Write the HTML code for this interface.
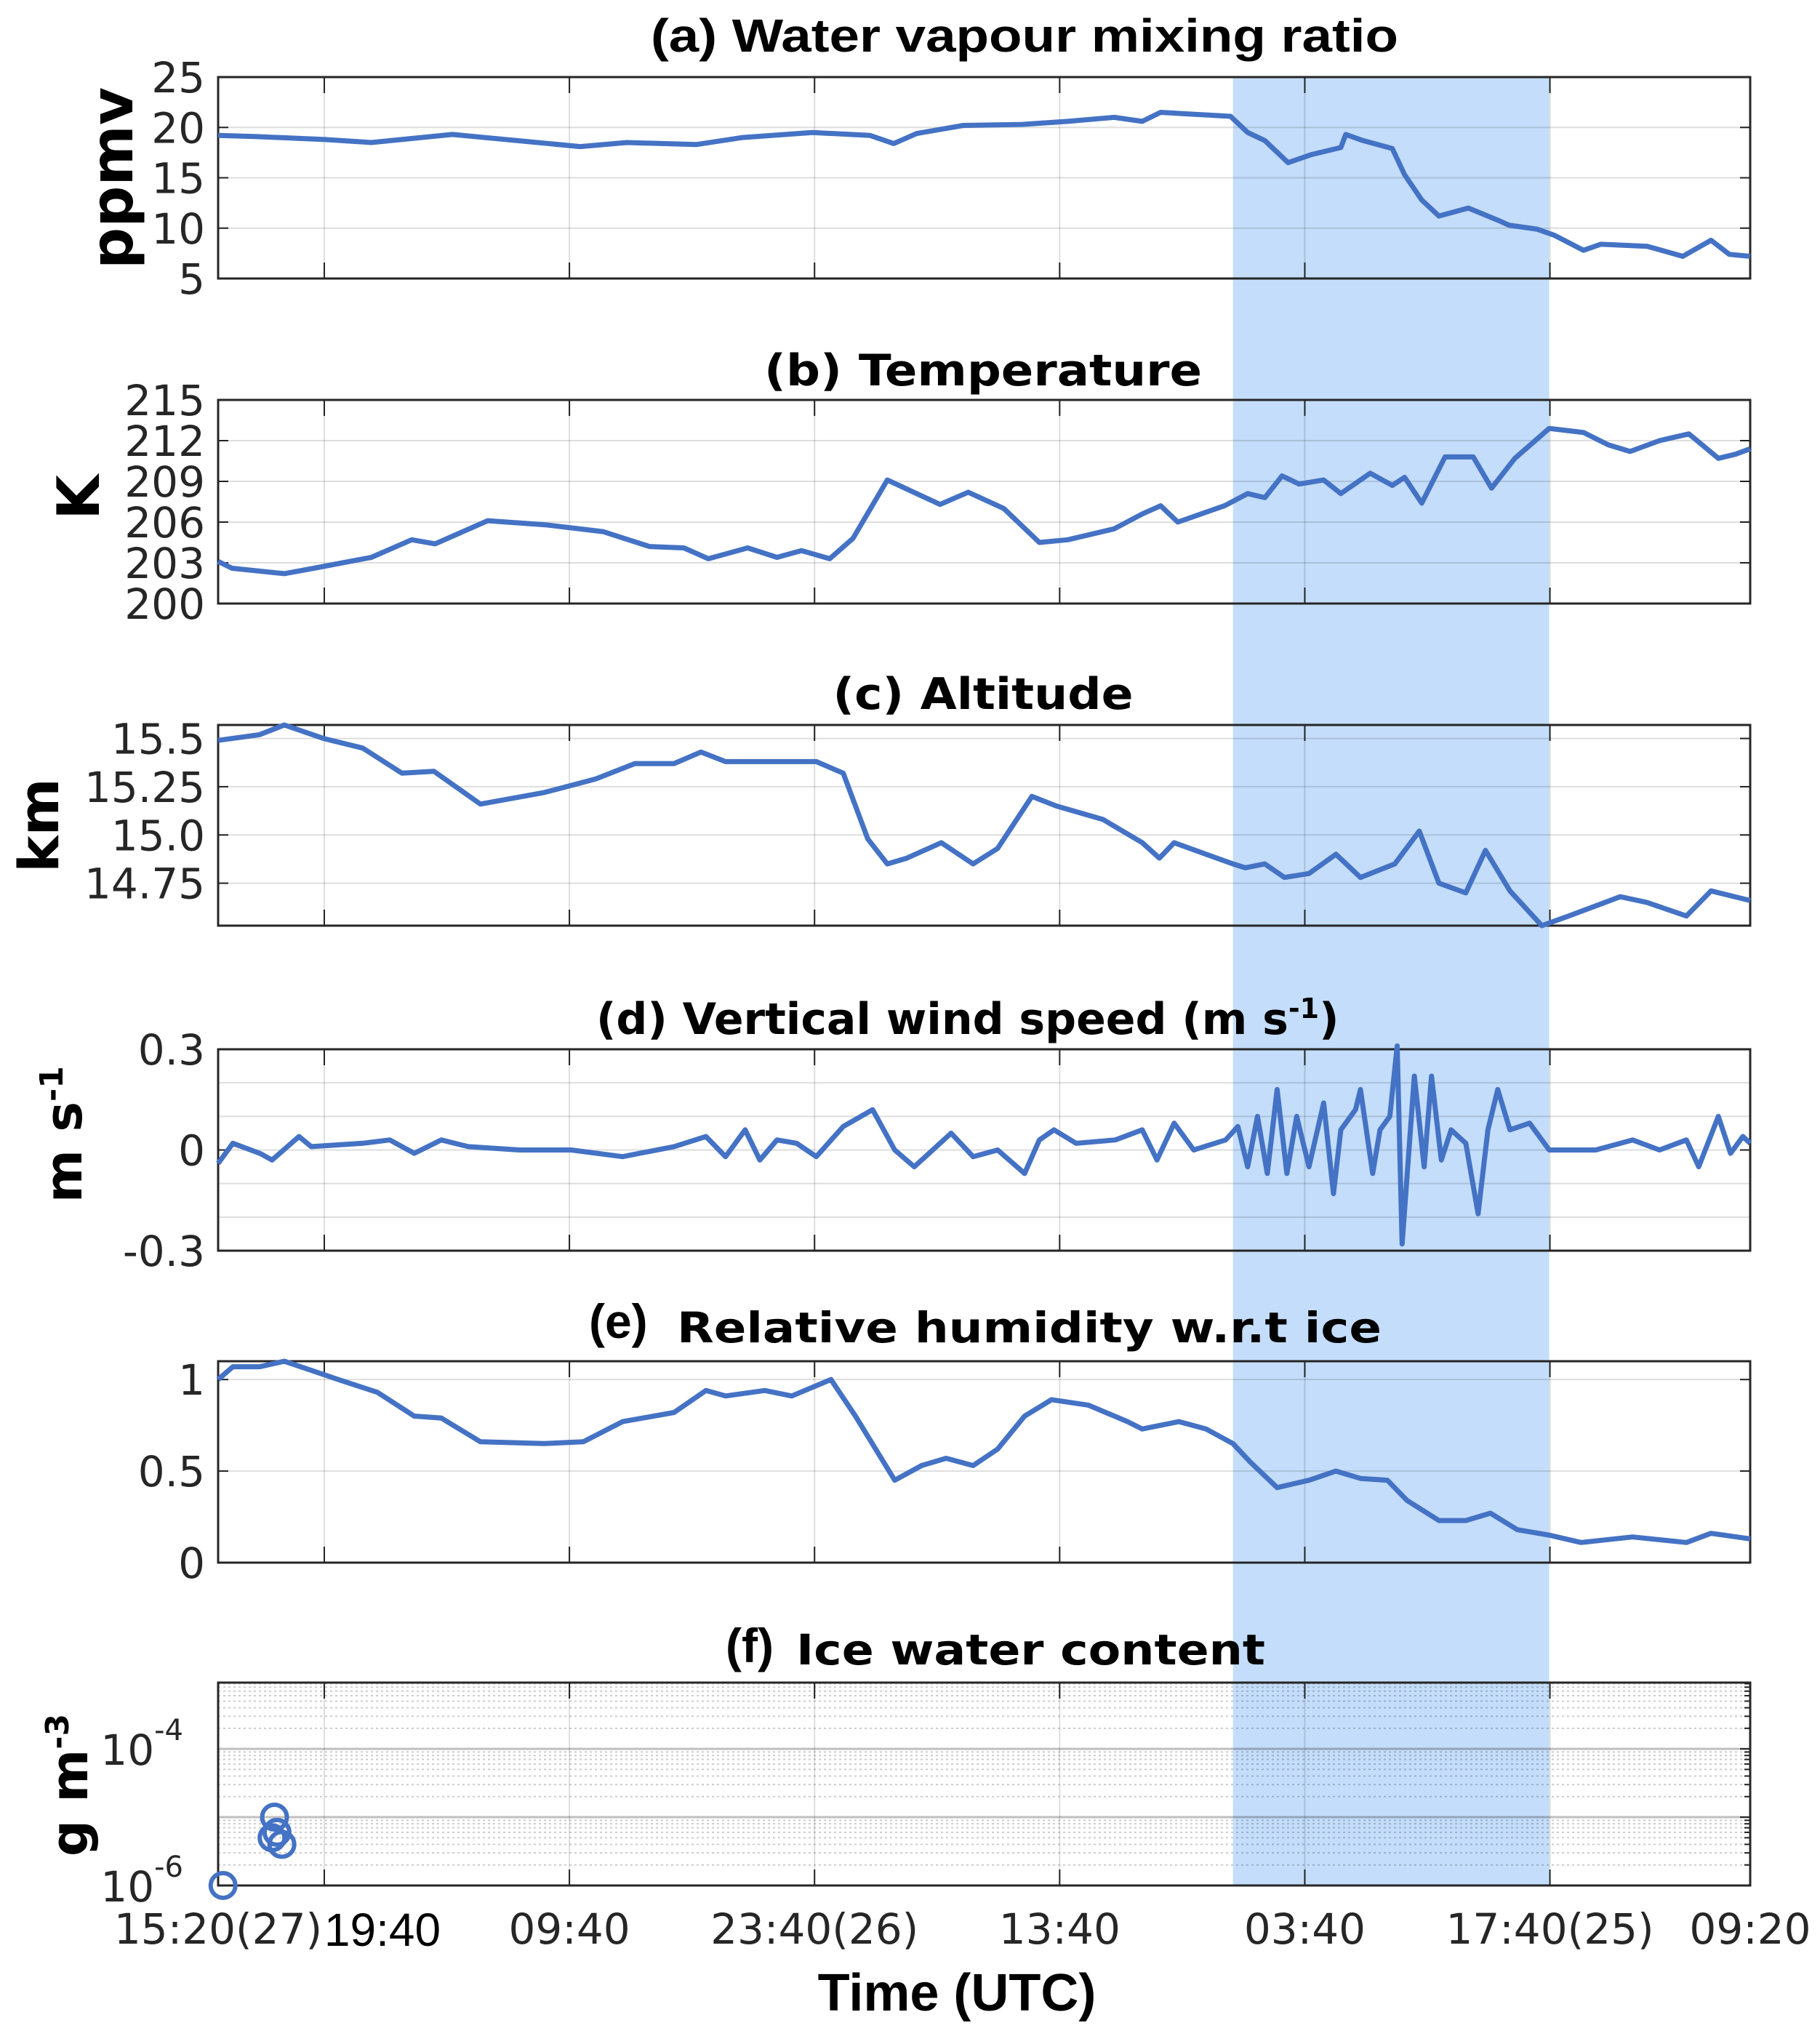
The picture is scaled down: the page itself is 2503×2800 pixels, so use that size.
<!DOCTYPE html>
<html><head><meta charset="utf-8"><style>
html,body{margin:0;padding:0;background:#fff}
svg{display:block}
.tk{font-family:"DejaVu Sans","Liberation Sans",sans-serif;font-size:58px;fill:#262626}
.ttl{font-family:"DejaVu Sans","Liberation Sans",sans-serif;font-weight:bold;fill:#000}
.ttlh{font-family:"Liberation Sans",sans-serif;font-weight:bold;fill:#000}
</style></head><body>
<svg id="chart" width="2503" height="2800" viewBox="0 0 2503 2800" xmlns="http://www.w3.org/2000/svg"></svg>
<script>
// x-axis (hours from plot start)
const xTickHours=[4.33,14.33,24.33,34.33,44.33,54.33];
const xTickLabels=["19:40","09:40","23:40(26)","13:40","03:40","17:40(25)"];
const xEndLabels=["15:20(27)","09:20"];
const shadeHours=[41.4,54.3];
// (a) water vapour
const hA=[0,1.5,4.36,6.25,9.56,14.77,16.67,19.5,21.4,24.24,26.6,27.56,28.5,30.4,32.8,34.66,36.55,37.7,38.45,41.3,42,42.7,43.65,44.6,45.8,46,46.7,47.9,48.4,49.1,49.8,51,52.2,52.65,53.8,54.5,55.7,56.4,58.3,59.75,60.9,61.65,62.5];
const vA=[19.2,19.1,18.8,18.5,19.3,18.1,18.5,18.3,19,19.5,19.2,18.4,19.4,20.2,20.3,20.6,21,20.6,21.5,21.1,19.5,18.7,16.5,17.3,18,19.3,18.7,17.9,15.3,12.8,11.2,12,10.8,10.3,9.9,9.3,7.8,8.4,8.2,7.2,8.8,7.4,7.2];
const tA=[5,10,15,20,25];
// (b) temperature
const hB=[0,.57,2.7,3.9,6.25,7.9,8.85,11,13.35,15.7,17.6,19,20,21.6,22.8,23.8,24.95,25.9,27.3,29.45,30.6,32.05,33.5,34.66,36.55,37.7,38.45,39.15,41.05,42,42.7,43.4,44.1,45.1,45.8,47,47.9,48.4,49.1,50.05,51.2,51.95,52.9,54.3,55.7,56.7,57.6,58.8,60,61.2,61.9,62.5];
const vB=[203.1,202.6,202.2,202.6,203.4,204.7,204.4,206.1,205.8,205.3,204.2,204.1,203.3,204.1,203.4,203.9,203.3,204.8,209.1,207.3,208.2,207,204.5,204.7,205.5,206.6,207.2,206,207.2,208.1,207.8,209.4,208.8,209.1,208.1,209.6,208.7,209.3,207.4,210.8,210.8,208.5,210.7,212.9,212.6,211.7,211.2,212,212.5,210.7,211,211.4];
const tB=[200,203,206,209,212,215];
// (c) altitude
const hC=[0,1.7,2.7,4.3,5.9,7.5,8.8,10.7,13.3,15.4,17,18.6,19.7,20.7,22.8,24.4,25.5,26.5,27.3,28.1,29.5,30.8,31.8,33.2,34.2,36.1,37.7,38.4,39,40.3,41.4,41.9,42.7,43.5,44.5,45.6,46.6,48,49,49.8,50.9,51.7,52.7,54,55.1,57.2,58.3,59.9,60.9,62.5];
const vC=[15.49,15.52,15.57,15.5,15.45,15.32,15.33,15.16,15.22,15.29,15.37,15.37,15.43,15.38,15.38,15.38,15.32,14.98,14.85,14.88,14.96,14.85,14.93,15.2,15.15,15.08,14.96,14.88,14.96,14.9,14.85,14.83,14.85,14.78,14.8,14.9,14.78,14.85,15.02,14.75,14.7,14.92,14.71,14.53,14.58,14.68,14.65,14.58,14.71,14.66];
const tC=[14.75,15.0,15.25,15.5];
const tCLabels=["14.75","15.0","15.25","15.5"];
// (d) vertical wind
const hD=[0,0.6,1.7,2.2,3.3,3.8,5.9,7.0,8.0,9.1,10.2,12.3,14.4,16.5,18.6,19.9,20.7,21.5,22.1,22.8,23.6,24.4,25.5,26.7,27.6,28.4,29.9,30.8,31.8,32.9,33.5,34.1,35.0,36.6,37.7,38.3,39.0,39.8,41.1,41.6,42.0,42.4,42.8,43.2,43.6,44.0,44.5,45.1,45.5,45.8,46.4,46.6,47.1,47.4,47.8,48.1,48.3,48.8,49.2,49.5,49.9,50.3,50.9,51.4,51.8,52.2,52.7,53.5,54.3,56.2,57.7,58.8,59.9,60.4,61.2,61.7,62.2,62.5];
const vD=[-0.04,0.02,-0.01,-0.03,0.04,0.01,0.02,0.03,-0.01,0.03,0.01,0,0,-0.02,0.01,0.04,-0.02,0.06,-0.03,0.03,0.02,-0.02,0.07,0.12,0,-0.05,0.05,-0.02,0,-0.07,0.03,0.06,0.02,0.03,0.06,-0.03,0.08,0,0.03,0.07,-0.05,0.1,-0.07,0.18,-0.07,0.1,-0.05,0.14,-0.13,0.06,0.12,0.18,-0.07,0.06,0.1,0.31,-0.28,0.22,-0.05,0.22,-0.03,0.06,0.02,-0.19,0.06,0.18,0.06,0.08,0,0,0.03,0,0.03,-0.05,0.1,-0.01,0.04,0.02];
const tD=[-0.3,0,0.3];
// (e) RH ice
const hE=[0,.6,1.7,2.7,3.8,4.9,6.5,8,9.1,10.7,13.3,14.9,16.5,18.6,19.9,20.7,22.3,23.4,25,26,27.6,28.7,29.7,30.8,31.8,32.9,34,35.5,37.1,37.7,39.2,40.3,41.4,42.1,43.2,44.5,45.6,46.6,47.7,48.5,49.8,50.9,51.9,53,54.3,55.6,57.7,59.9,60.9,62.5];
const vE=[1.0,1.07,1.07,1.1,1.05,1.0,.93,.8,.79,.66,.65,.66,.77,.82,.94,.91,.94,.91,1.0,.8,.45,.53,.57,.53,.62,.8,.89,.86,.77,.73,.77,.73,.65,.55,.41,.45,.5,.46,.45,.34,.23,.23,.27,.18,.15,.11,.14,.11,.16,.13];
const tE=[0,0.5,1];
// (f) IWC
const hF=[0.2,2.3,2.2,2.6,2.4];
const vF=[1e-6,1e-5,5e-6,4e-6,6e-6];

const NS="http://www.w3.org/2000/svg";
const svg=document.getElementById('chart');
const X0=300,X1=2407,HMAX=62.5;
const xs=h=>X0+(h/HMAX)*(X1-X0);
function el(tag,attrs,parent){const e=document.createElementNS(NS,tag);for(const k in attrs)e.setAttribute(k,attrs[k]);(parent||svg).appendChild(e);return e;}
function txt(s,attrs,parent){const e=el('text',attrs,parent);e.textContent=s;return e;}

const panels=[
 {id:'a',top:106,bot:383,min:5,max:25,h:hA,v:vA,ticks:tA,grid:tA},
 {id:'b',top:550,bot:830,min:200,max:215,h:hB,v:vB,ticks:tB,grid:tB},
 {id:'c',top:997,bot:1273,min:14.53,max:15.57,h:hC,v:vC,ticks:tC,grid:tC,labels:tCLabels},
 {id:'d',top:1443,bot:1720,min:-0.3,max:0.3,h:hD,v:vD,ticks:tD,grid:[-0.2,-0.1,0,0.1,0.2]},
 {id:'e',top:1872,bot:2149,min:0,max:1.1,h:hE,v:vE,ticks:tE,grid:[0,0.5,1]},
 {id:'f',top:2314,bot:2593,log:true,min:-6,max:-3.03,h:hF,v:vF}
];

const sh=el('rect',{x:xs(shadeHours[0]),y:106,width:xs(shadeHours[1])-xs(shadeHours[0]),height:2593-106,fill:'#c4ddfa'});



panels.forEach(p=>{
 const g=el('g',{});
 
 
 const ys=p.log?(v=>p.bot-(Math.log10(v)-p.min)/(p.max-p.min)*(p.bot-p.top)):(v=>p.bot-(v-p.min)/(p.max-p.min)*(p.bot-p.top));
 xTickHours.forEach(h=>{
  el('line',{x1:xs(h),x2:xs(h),y1:p.top,y2:p.bot,stroke:'#000','stroke-opacity':0.13,'stroke-width':2},g);
  el('line',{x1:xs(h),x2:xs(h),y1:p.bot,y2:p.bot-22,stroke:'#222','stroke-width':2},g);
  el('line',{x1:xs(h),x2:xs(h),y1:p.top,y2:p.top+22,stroke:'#222','stroke-width':2},g);
 });
 if(p.log){
  for(let d=-6;d<-3;d++){for(let m=1;m<10;m++){const v=m*Math.pow(10,d);const y=ys(v);if(y<p.top)continue;
   el('line',{x1:X0,x2:X1,y1:y,y2:y,stroke:'#000','stroke-opacity':m===1?0.25:0.2,'stroke-width':m===1?3:2,'stroke-dasharray':m===1?'none':'3,4'},g);
   el('line',{x1:X1,x2:X1-(m===1?14:8),y1:y,y2:y,stroke:'#222','stroke-width':2},g);}}
  [-6,-4].forEach(e=>{const y=ys(Math.pow(10,e));
   const t=txt('10',{x:252,y:y+22,'text-anchor':'end',class:'tk'},g);
   const sup=el('tspan',{dy:-34,'font-size':'40px'},t);sup.textContent=String(e);
  });
 }else{
  p.grid.forEach(v=>{const y=ys(v);el('line',{x1:X0,x2:X1,y1:y,y2:y,stroke:'#000','stroke-opacity':0.13,'stroke-width':2},g);});
  p.ticks.forEach((v,i)=>{const y=ys(v);
   el('line',{x1:X0,x2:X0+14,y1:y,y2:y,stroke:'#222','stroke-width':2},g);
   el('line',{x1:X1,x2:X1-14,y1:y,y2:y,stroke:'#222','stroke-width':2},g);
   txt(p.labels?p.labels[i]:String(v),{x:282,y:y+21,'text-anchor':'end',class:'tk'},g);});
 }
 el('rect',{x:X0,y:p.top,width:X1-X0,height:p.bot-p.top,fill:'none',stroke:'#262626','stroke-width':3},g);
 if(p.log){
  p.h.forEach((h,i)=>{const c=el('circle',{cx:xs(h),cy:ys(p.v[i]),r:17,fill:'none',stroke:'#4472c4','stroke-width':6},g);
   
   });
 }else{
  const d=p.h.map((h,i)=>(i?'L':'M')+xs(h).toFixed(1)+','+ys(p.v[i]).toFixed(1)).join(' ');
  const path=el('path',{d:d,fill:'none',stroke:'#4472c4','stroke-width':7,'stroke-linejoin':'round'},g);
  
  
 }
});

const xl=el('g',{});


txt(xEndLabels[0],{x:300,y:2673,'text-anchor':'middle',class:'tk'},xl);
xTickHours.forEach((h,i)=>{
 if(i===0){txt(xTickLabels[i],{x:xs(h)+80,y:2676,'text-anchor':'middle',class:'tk',style:'fill:#000;font-size:64px;font-family:"Liberation Sans",sans-serif'},xl);}
 else txt(xTickLabels[i],{x:xs(h),y:2673,'text-anchor':'middle',class:'tk'},xl);
});
txt(xEndLabels[1],{x:2407,y:2673,'text-anchor':'middle',class:'tk'},xl);

function t(str,a,name){const e=txt(str,a);
 
 
 return e;}
t("(a) Water vapour mixing ratio",{x:1409,y:71,'text-anchor':'middle',class:'ttlh','font-size':'64',textLength:1028,lengthAdjust:'spacingAndGlyphs'},'title-a');
t("(b) Temperature",{x:1352,y:530,'text-anchor':'middle',class:'ttl','font-size':'60',textLength:602,lengthAdjust:'spacingAndGlyphs'},'title-b');
t("(c) Altitude",{x:1352,y:975,'text-anchor':'middle',class:'ttl','font-size':'60',textLength:413,lengthAdjust:'spacingAndGlyphs'},'title-c');
const dT=t("(d) Vertical wind speed (m s",{x:820,y:1422,class:'ttl','font-size':'60'},'title-d');
const sp=el('tspan',{dy:'-22','font-size':'38'},dT);sp.textContent='-1';
const sp2=el('tspan',{dy:'22'},dT);sp2.textContent=')';
t("(e)",{x:810,y:1840,class:'ttlh','font-size':'66'},'title-e-label');
t("Relative humidity w.r.t ice",{x:931,y:1846,class:'ttl','font-size':'58',textLength:969,lengthAdjust:'spacingAndGlyphs'},'title-e');
t("(f)",{x:998,y:2286,class:'ttlh','font-size':'66'},'title-f-label');
t("Ice water content",{x:1095,y:2289,class:'ttl','font-size':'58',textLength:645,lengthAdjust:'spacingAndGlyphs'},'title-f');
function yl(str,x,yc,fs,name,sup){const e=t(str,{x:0,y:0,'text-anchor':'middle',class:'ttl','font-size':fs,transform:'translate('+x+','+yc+') rotate(-90)'},name);
 if(sup){const q=el('tspan',{dy:'-26','font-size':'44'},e);q.textContent=sup;} return e;}
yl("ppmv",182,245,80,'y-label-a');
yl("K",136,684,80,'y-label-b');
yl("km",80,1135,76,'y-label-c');
yl("m s",112,1560,70,'y-label-d','-1');
yl("g m",120,2455,70,'y-label-f','-3');
t("Time (UTC)",{x:1316,y:2765,'text-anchor':'middle',class:'ttlh','font-size':'72'},'x-axis-title');
</script>
</body></html>
